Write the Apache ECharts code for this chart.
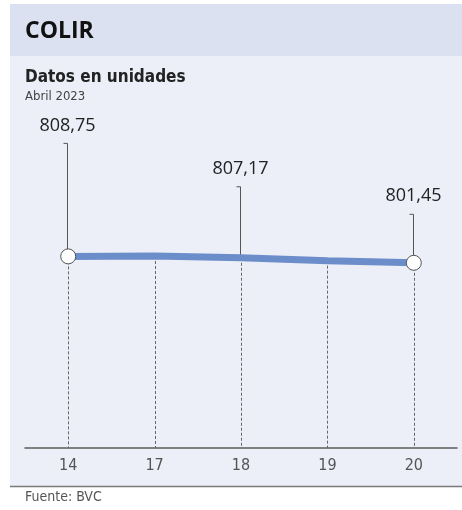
<!DOCTYPE html>
<html>
<head>
<meta charset="utf-8">
<script src="https://cdn.jsdelivr.net/npm/echarts@6/dist/echarts.min.js"></script>
<style>
html,body{margin:0;padding:0;background:#fff;}
#chart{width:462px;height:510px;}
</style>
</head>
<body>
<div id="chart"></div>
<script>
const categories = ['14', '17', '18', '19', '20'];
const values = [808.75, 809.2, 807.17, 803.9, 801.45];
const labeledIdx = [0, 2, 4];
const circleIdx = [0, 4];
const titleText = 'COLIR';
const subtitleText = 'Datos en unidades';
const periodText = 'Abril 2023';
const sourceText = 'Fuente: BVC';

// styling (not data)
const leaderLen = { 0: 113, 2: 71, 4: 48.5 };
const Y_MIN = 591, Y_MAX = 891;
const NARROW = '"DejaVu Sans Condensed", "Roboto", sans-serif';
const fmt = v => v.toFixed(2).replace('.', ',');

const chart = echarts.init(document.getElementById('chart'), null, { renderer: 'canvas' });

const option = {
  animation: false,
  backgroundColor: '#ffffff',
  graphic: [
    { type: 'rect', z: -10, shape: { x: 10, y: 4, width: 452, height: 52 }, style: { fill: '#dce1f2' } },
    { type: 'rect', z: -10, shape: { x: 10, y: 56, width: 452, height: 430 }, style: { fill: '#eceef8' } },
    { type: 'line', z: -9, shape: { x1: 10, y1: 486.5, x2: 462, y2: 486.5 }, style: { stroke: '#7a7a7a', lineWidth: 1.5 } },
    { type: 'text', style: { text: titleText, x: 25, y: 31, verticalAlign: 'middle', fill: '#111', font: 'bold 23px "Open Sans"' } },
    { type: 'text', style: { text: subtitleText, x: 25, y: 78, verticalAlign: 'middle', fill: '#222', font: 'bold 17px ' + NARROW } },
    { type: 'text', style: { text: periodText, x: 25, y: 97, verticalAlign: 'middle', fill: '#444', font: '13px ' + NARROW } },
    { type: 'text', style: { text: sourceText, x: 25, y: 497, verticalAlign: 'middle', fill: '#555', font: '14px ' + NARROW } }
  ],
  grid: { left: 25, right: 5, top: 184, bottom: 62 },
  xAxis: {
    type: 'category',
    data: categories,
    boundaryGap: true,
    axisLine: { lineStyle: { color: '#5e5e5e', width: 1.5 } },
    axisTick: { show: false },
    axisLabel: { color: '#555', fontSize: 16, fontFamily: NARROW, margin: 10 },
    splitLine: { show: false }
  },
  yAxis: {
    type: 'value', min: Y_MIN, max: Y_MAX, show: false,
    splitLine: { show: false }
  },
  series: [
    {
      type: 'custom',
      z: 1,
      data: values.map((v, i) => [i, v]),
      renderItem: function (params, api) {
        const i = api.value(0);
        const p = api.coord([i, api.value(1)]);
        const b = api.coord([i, Y_MIN]);
        return {
          type: 'line',
          shape: { x1: Math.round(p[0]) + 0.5, y1: p[1], x2: Math.round(p[0]) + 0.5, y2: b[1] },
          style: { stroke: '#666', lineWidth: 1, lineDash: [3, 2] }
        };
      }
    },
    {
      type: 'custom',
      z: 2,
      data: labeledIdx.map(i => [i, values[i]]),
      renderItem: function (params, api) {
        const i = api.value(0);
        const p = api.coord([i, api.value(1)]);
        const x = Math.round(p[0]) - 0.5;
        const top = p[1] - leaderLen[i];
        return {
          type: 'group',
          children: [
            {
              type: 'polyline',
              shape: { points: [[x, p[1]], [x, top], [x - 4, top]] },
              style: { stroke: '#555', lineWidth: 1, fill: null }
            },
            {
              type: 'text',
              style: {
                text: fmt(api.value(1)), x: x, y: top - 18,
                align: 'center', verticalAlign: 'middle',
                fill: '#222', font: '18px "Open Sans"'
              }
            }
          ]
        };
      }
    },
    {
      type: 'line',
      z: 5,
      data: values.map((v, i) => ({
        value: v,
        symbol: circleIdx.indexOf(i) >= 0 ? 'circle' : 'none'
      })),
      symbolSize: 15,
      lineStyle: { color: '#6b8dca', width: 7 },
      itemStyle: { color: '#ffffff', borderColor: '#555', borderWidth: 1 },
      label: { show: false },
      smooth: false
    }
  ]
};
chart.setOption(option);
</script>
</body>
</html>
